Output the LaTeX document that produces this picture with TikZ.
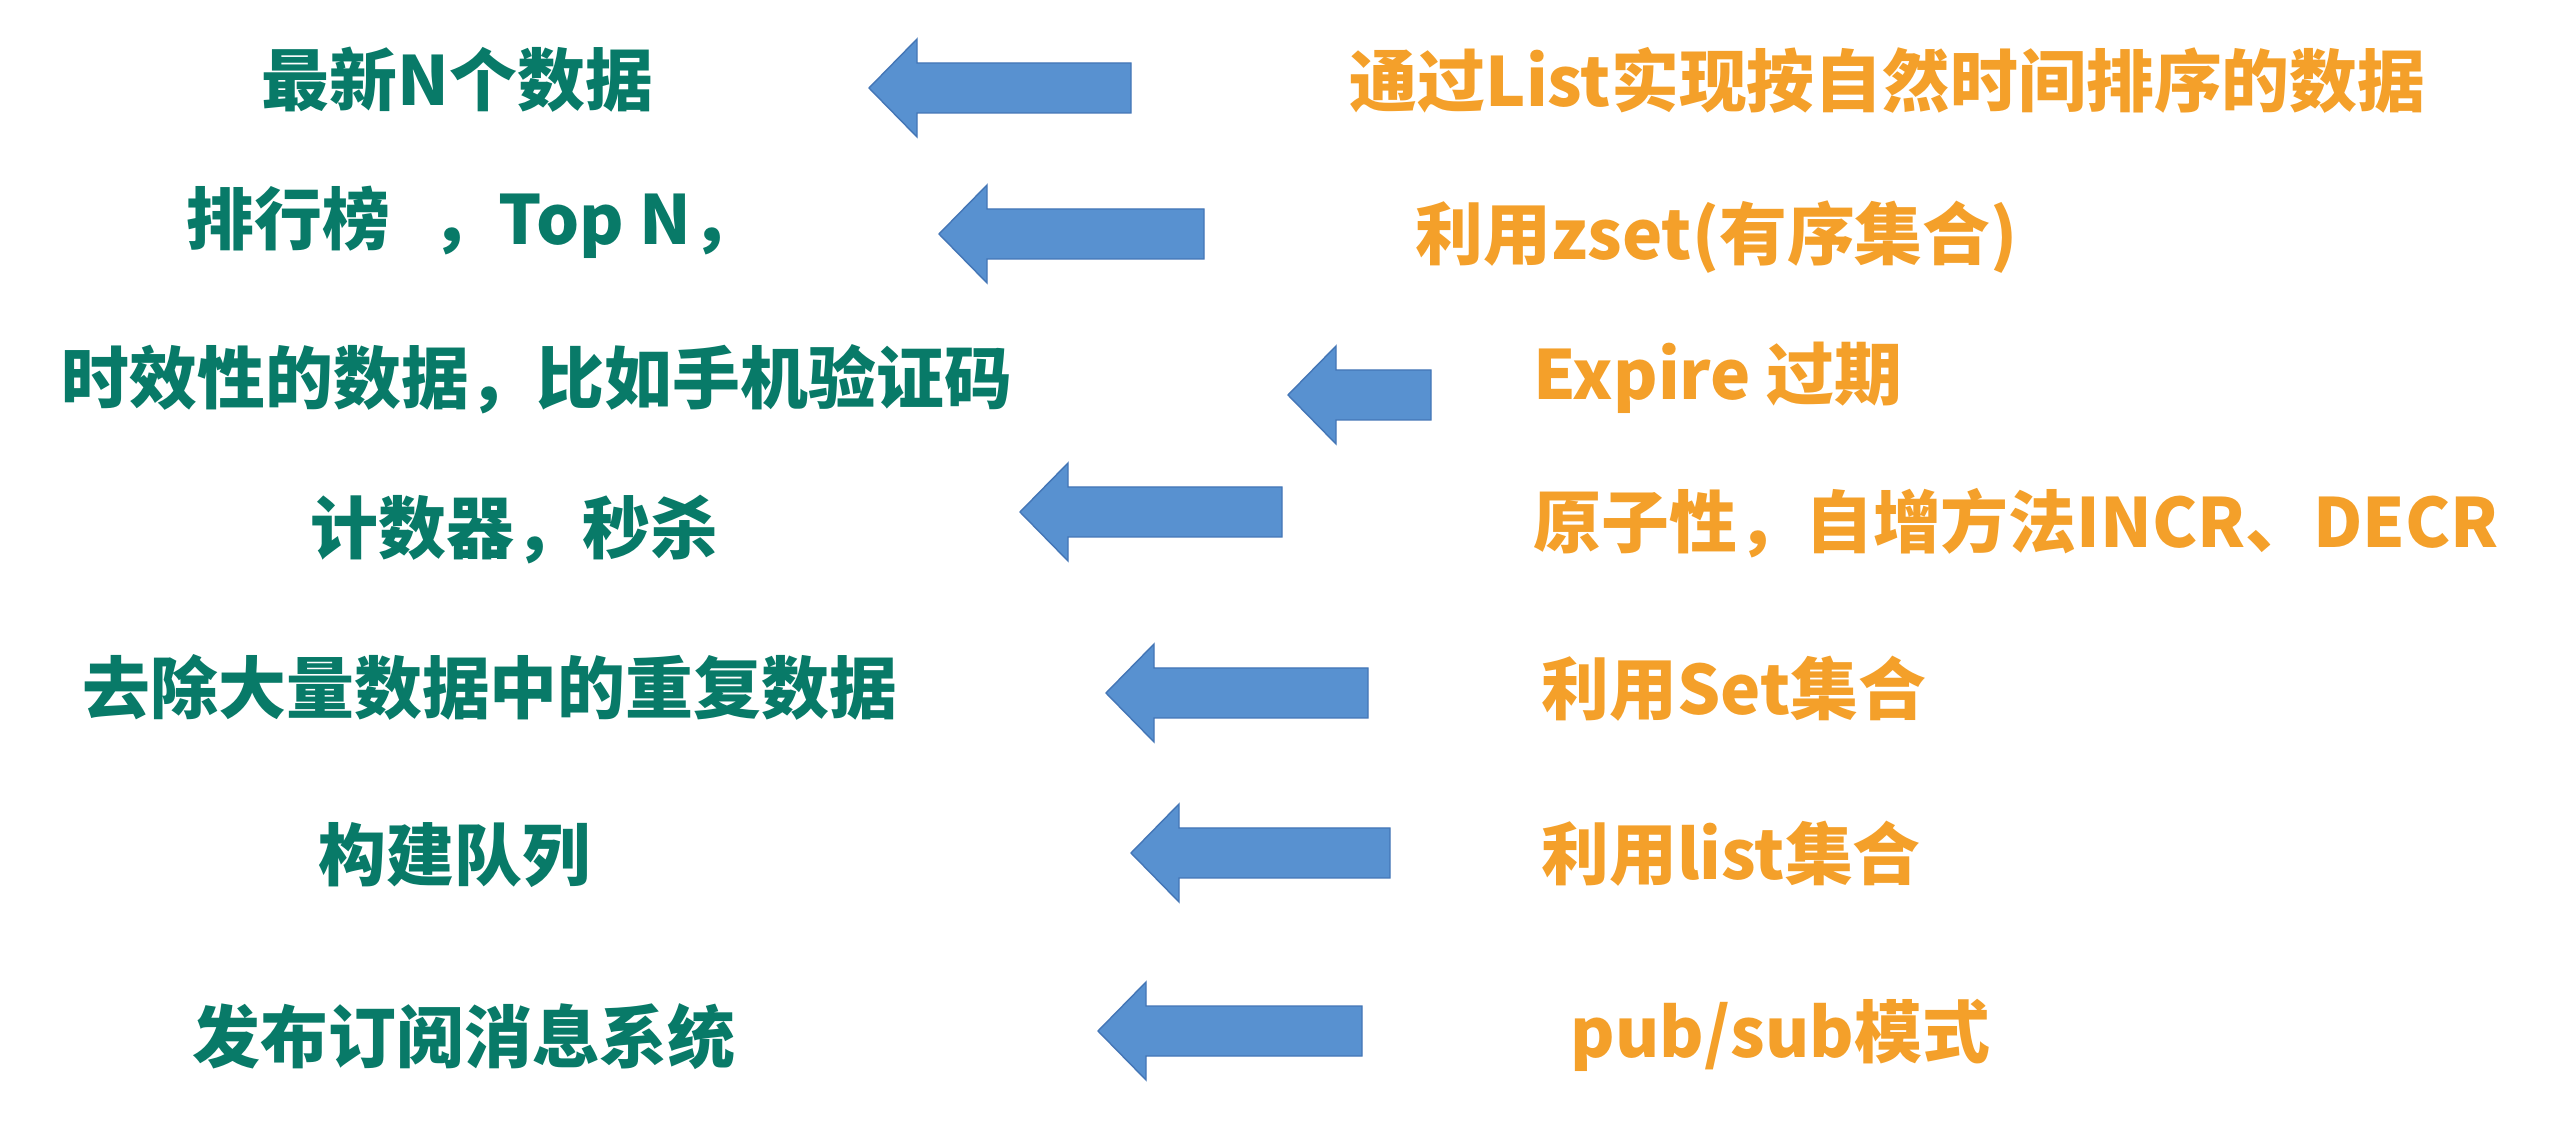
\documentclass[tikz,border=0pt]{standalone}
\usepackage{fontspec}
\newfontfamily\cjk{Noto Sans CJK SC}
\definecolor{lgreen}{RGB}{8,122,104}
\definecolor{rorange}{RGB}{244,160,42}
\definecolor{abfill}{RGB}{88,145,208}
\definecolor{abedge}{RGB}{68,118,182}
\tikzset{
  ltext/.style={anchor=west, inner sep=0pt, text=lgreen, font=\cjk\bfseries\fontsize{19.3}{23}\selectfont},
  rtext/.style={anchor=west, inner sep=0pt, text=rorange, font=\cjk\bfseries\fontsize{19.3}{23}\selectfont},
  blockarrow/.style={fill=abfill, draw=abedge, line width=0.4pt, line join=miter}
}
% #1 tip x, #2 right x, #3 centre y (all in reference pixels)
\newcommand\bArrow[3]{%
  \filldraw[blockarrow] (#1,#3) -- ++(48,-49) -- ++(0,24) -- (#2,#3-25) -- (#2,#3+25) -- (#1+48,#3+25) -- ++(0,24) -- cycle;}
\begin{document}
\begin{tikzpicture}[x=0.01cm, y=-0.01cm]
\useasboundingbox (0,0) rectangle (2560,1125);
\fill[white] (0,0) rectangle (2560,1125);

\node[ltext] (l1) at (261,80) {最新N个数据};
\node[ltext] (l2) at (186,222) {排行榜\hspace{0.6em}，Top N，};
\node[ltext] (l3) at (61,379) {时效性的数据，比如手机验证码};
\node[ltext] (l4) at (310,530) {计数器，秒杀};
\node[ltext] (l5) at (82,687) {去除大量数据中的重复数据};
\node[ltext] (l6) at (318,855) {构建队列};
\node[ltext] (l7) at (192,1037) {发布订阅消息系统};

\node[rtext] (r1) at (1349,80) {通过List实现按自然时间排序的数据};
\node[rtext] (r2) at (1415,237) {利用zset(有序集合)};
\node[rtext] (r3) at (1533,378) {Expire 过期};
\node[rtext] (r4) at (1533,523) {原子性，自增方法INCR、DECR};
\node[rtext] (r5) at (1541,689) {利用Set集合};
\node[rtext] (r6) at (1541,854) {利用list集合};
\node[rtext] (r7) at (1570,1035) {pub/sub模式};

\bArrow{869}{1131}{88}
\bArrow{939}{1204}{234}
\bArrow{1288}{1431}{395}
\bArrow{1020}{1282}{512}
\bArrow{1106}{1368}{693}
\bArrow{1131}{1390}{853}
\bArrow{1098}{1362}{1031}
\end{tikzpicture}
\end{document}
